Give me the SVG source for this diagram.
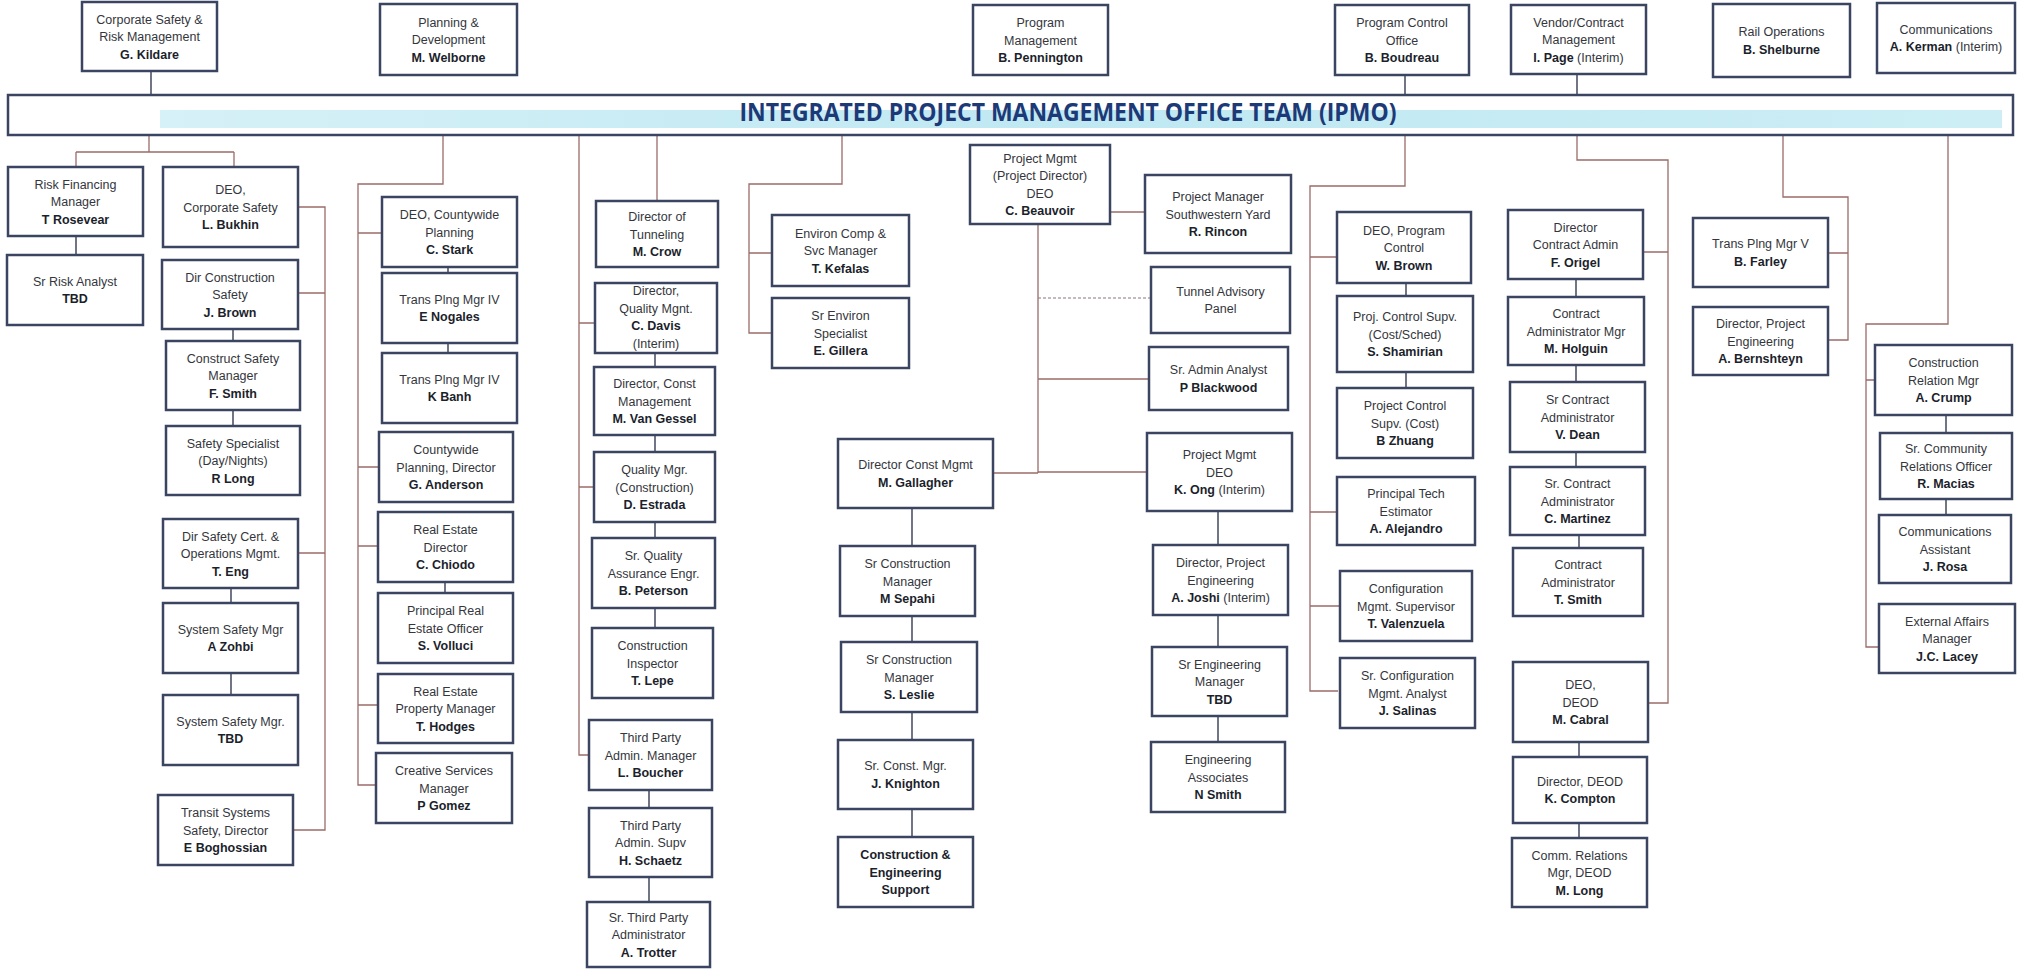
<svg xmlns="http://www.w3.org/2000/svg" width="2021" height="970" viewBox="0 0 2021 970">
<style>
.box{fill:#fff;stroke:#3b4562;stroke-width:2.5}
.t{font-family:"Liberation Sans",Arial,sans-serif;font-size:12.5px;fill:#34363c;text-anchor:middle}
.b{font-weight:bold;fill:#1c1f2c}
.bus{stroke:#9a6c6a;stroke-width:1.3;fill:none}
.lnk{stroke:#4d5468;stroke-width:1.6;fill:none}
.dot{stroke:#8a7a7a;stroke-width:1.2;fill:none;stroke-dasharray:3 2}
</style>
<defs>
<linearGradient id="band" x1="0" y1="0" x2="1" y2="0">
<stop offset="0" stop-color="#d6f1f7"/>
<stop offset="0.5" stop-color="#bfe8f2"/>
<stop offset="1" stop-color="#cdeef5"/>
</linearGradient>
</defs>
<rect width="2021" height="970" fill="#fff"/>

<!-- connectors -->
<g id="connectors">
<path class="bus" d="M149,135V152M76,152H234M76,152V167M234,152V167M298,207H325V830H293M298,293H325M298,553H325"/>
<path class="bus" d="M443,135V184H358V785H376M358,233H382M358,467H379M358,546H378M358,705H378"/>
<path class="bus" d="M657,135V201M579,135V755H589M579,323H595M579,487H594"/>
<path class="bus" d="M842,135V184H749V333H772M749,253H772"/>
<path class="bus" d="M1110,212H1145M1038,224V473M1038,379H1149M1038,472H1147M993,473H1038"/>
<path class="dot" d="M1038,298H1151"/>
<path class="bus" d="M1405,135V186H1310V691H1338M1310,257H1337M1310,512H1337M1310,606H1340"/>
<path class="bus" d="M1577,135V160H1668V703H1648M1643,252H1668"/>
<path class="bus" d="M1783,135V197H1848V340H1828M1828,253H1848"/>
<path class="bus" d="M1948,135V324H1866V647H1879M1866,380H1875"/>
<path class="lnk" d="M151,71V95M1405,75V95M1577,74V95"/>
<path class="lnk" d="M76,236V255M233,329V341M233,410V426M231,588V603M231,673V695"/>
<path class="lnk" d="M448,267V273M448,343V353M445,582V593"/>
<path class="lnk" d="M655,353V367M655,435V452M655,522V538M655,608V628M649,790V808M649,877V902"/>
<path class="lnk" d="M912,508V546M912,616V642M912,712V740M912,809V837"/>
<path class="lnk" d="M1218,511V545M1218,615V647M1218,716V742"/>
<path class="lnk" d="M1406,283V296M1406,372V388"/>
<path class="lnk" d="M1576,279V297M1576,365V382M1576,452V467M1579,535V548M1579,742V757M1579,823V838"/>
<path class="lnk" d="M1946,415V433M1946,499V515"/>
</g>

<!-- banner -->
<g id="ipmo">
<rect class="box" x="8" y="95" width="2005" height="40"/>
<rect x="160" y="110" width="1842" height="18" fill="url(#band)"/>
<text x="1068" y="121" font-family="'Open Sans','Liberation Sans',sans-serif" font-size="25" font-weight="bold" fill="#1d3a78" text-anchor="middle" textLength="657" lengthAdjust="spacingAndGlyphs">INTEGRATED PROJECT MANAGEMENT OFFICE TEAM (IPMO)</text>
</g>

<!-- top row -->
<g id="n-corp"><rect class="box" x="82" y="2" width="135" height="69"/><text class="t" x="149.5" y="23.5">Corporate Safety &amp;<tspan x="149.5" dy="17.5">Risk Management</tspan><tspan class="b" x="149.5" dy="17.5">G. Kildare</tspan></text></g>
<g id="n-plan"><rect class="box" x="380" y="4" width="137" height="71"/><text class="t" x="448.5" y="26.5">Planning &amp;<tspan x="448.5" dy="17.5">Development</tspan><tspan class="b" x="448.5" dy="17.5">M. Welborne</tspan></text></g>
<g id="n-prog"><rect class="box" x="973" y="5" width="135" height="70"/><text class="t" x="1040.5" y="27">Program<tspan x="1040.5" dy="17.5">Management</tspan><tspan class="b" x="1040.5" dy="17.5">B. Pennington</tspan></text></g>
<g id="n-pco"><rect class="box" x="1335" y="5" width="134" height="70"/><text class="t" x="1402" y="27">Program Control<tspan x="1402" dy="17.5">Office</tspan><tspan class="b" x="1402" dy="17.5">B. Boudreau</tspan></text></g>
<g id="n-vendor"><rect class="box" x="1511" y="5" width="135" height="69"/><text class="t" x="1578.5" y="26.5">Vendor/Contract<tspan x="1578.5" dy="17.5">Management</tspan><tspan class="b" x="1578.5" dy="17.5">I. Page</tspan><tspan> (Interim)</tspan></text></g>
<g id="n-rail"><rect class="box" x="1713" y="4" width="137" height="73"/><text class="t" x="1781.5" y="36.25">Rail Operations<tspan class="b" x="1781.5" dy="17.5">B. Shelburne</tspan></text></g>
<g id="n-comm"><rect class="box" x="1877" y="3" width="138" height="70"/><text class="t" x="1946" y="33.75">Communications<tspan class="b" x="1946" dy="17.5">A. Kerman</tspan><tspan> (Interim)</tspan></text></g>

<!-- corporate safety -->
<g id="n-rfm"><rect class="box" x="8" y="167" width="135" height="69"/><text class="t" x="75.5" y="188.5">Risk Financing<tspan x="75.5" dy="17.5">Manager</tspan><tspan class="b" x="75.5" dy="17.5">T Rosevear</tspan></text></g>
<g id="n-sra"><rect class="box" x="7" y="255" width="136" height="70"/><text class="t" x="75" y="285.75">Sr  Risk Analyst<tspan class="b" x="75" dy="17.5">TBD</tspan></text></g>
<g id="n-deocs"><rect class="box" x="163" y="167" width="135" height="80"/><text class="t" x="230.5" y="194">DEO,<tspan x="230.5" dy="17.5">Corporate Safety</tspan><tspan class="b" x="230.5" dy="17.5">L. Bukhin</tspan></text></g>
<g id="n-dcs"><rect class="box" x="162" y="260" width="136" height="69"/><text class="t" x="230" y="281.5">Dir  Construction<tspan x="230" dy="17.5">Safety</tspan><tspan class="b" x="230" dy="17.5">J. Brown</tspan></text></g>
<g id="n-csm"><rect class="box" x="166" y="341" width="134" height="69"/><text class="t" x="233" y="362.5">Construct  Safety<tspan x="233" dy="17.5">Manager</tspan><tspan class="b" x="233" dy="17.5">F. Smith</tspan></text></g>
<g id="n-ss"><rect class="box" x="166" y="426" width="134" height="69"/><text class="t" x="233" y="447.5">Safety Specialist<tspan x="233" dy="17.5">(Day/Nights)</tspan><tspan class="b" x="233" dy="17.5">R  Long</tspan></text></g>
<g id="n-dsc"><rect class="box" x="163" y="519" width="135" height="69"/><text class="t" x="230.5" y="540.5">Dir  Safety Cert. &amp;<tspan x="230.5" dy="17.5">Operations Mgmt.</tspan><tspan class="b" x="230.5" dy="17.5">T. Eng</tspan></text></g>
<g id="n-ssm1"><rect class="box" x="163" y="603" width="135" height="70"/><text class="t" x="230.5" y="633.75">System Safety Mgr<tspan class="b" x="230.5" dy="17.5">A  Zohbi</tspan></text></g>
<g id="n-ssm2"><rect class="box" x="163" y="695" width="135" height="70"/><text class="t" x="230.5" y="725.75">System Safety Mgr.<tspan class="b" x="230.5" dy="17.5">TBD</tspan></text></g>
<g id="n-tss"><rect class="box" x="158" y="795" width="135" height="70"/><text class="t" x="225.5" y="817">Transit Systems<tspan x="225.5" dy="17.5">Safety, Director</tspan><tspan class="b" x="225.5" dy="17.5">E  Boghossian</tspan></text></g>

<!-- planning -->
<g id="n-deocp"><rect class="box" x="382" y="197" width="135" height="70"/><text class="t" x="449.5" y="219">DEO, Countywide<tspan x="449.5" dy="17.5">Planning</tspan><tspan class="b" x="449.5" dy="17.5">C. Stark</tspan></text></g>
<g id="n-tpm4a"><rect class="box" x="382" y="273" width="135" height="70"/><text class="t" x="449.5" y="303.75">Trans Plng Mgr  IV<tspan class="b" x="449.5" dy="17.5">E  Nogales</tspan></text></g>
<g id="n-tpm4b"><rect class="box" x="382" y="353" width="135" height="70"/><text class="t" x="449.5" y="383.75">Trans Plng Mgr  IV<tspan class="b" x="449.5" dy="17.5">K  Banh</tspan></text></g>
<g id="n-cpd"><rect class="box" x="379" y="432" width="134" height="70"/><text class="t" x="446" y="454">Countywide<tspan x="446" dy="17.5">Planning, Director</tspan><tspan class="b" x="446" dy="17.5">G. Anderson</tspan></text></g>
<g id="n-red"><rect class="box" x="378" y="512" width="135" height="70"/><text class="t" x="445.5" y="534">Real Estate<tspan x="445.5" dy="17.5">Director</tspan><tspan class="b" x="445.5" dy="17.5">C. Chiodo</tspan></text></g>
<g id="n-preo"><rect class="box" x="378" y="593" width="135" height="70"/><text class="t" x="445.5" y="615">Principal Real<tspan x="445.5" dy="17.5">Estate Officer</tspan><tspan class="b" x="445.5" dy="17.5">S. Volluci</tspan></text></g>
<g id="n-repm"><rect class="box" x="378" y="674" width="135" height="69"/><text class="t" x="445.5" y="695.5">Real Estate<tspan x="445.5" dy="17.5">Property Manager</tspan><tspan class="b" x="445.5" dy="17.5">T. Hodges</tspan></text></g>
<g id="n-csvc"><rect class="box" x="376" y="753" width="136" height="70"/><text class="t" x="444" y="775">Creative Services<tspan x="444" dy="17.5">Manager</tspan><tspan class="b" x="444" dy="17.5">P  Gomez</tspan></text></g>

<!-- tunneling -->
<g id="n-dt"><rect class="box" x="596" y="201" width="122" height="66"/><text class="t" x="657" y="221">Director of<tspan x="657" dy="17.5">Tunneling</tspan><tspan class="b" x="657" dy="17.5">M. Crow</tspan></text></g>
<g id="n-dqm"><rect class="box" x="595" y="283" width="122" height="70"/><text class="t" x="656" y="295">Director,<tspan x="656" dy="17.5">Quality Mgnt.</tspan><tspan class="b" x="656" dy="17.5">C. Davis</tspan><tspan x="656" dy="17.5">(Interim)</tspan></text></g>
<g id="n-dcm"><rect class="box" x="594" y="367" width="121" height="68"/><text class="t" x="654.5" y="388">Director, Const<tspan x="654.5" dy="17.5">Management</tspan><tspan class="b" x="654.5" dy="17.5">M. Van Gessel</tspan></text></g>
<g id="n-qmc"><rect class="box" x="594" y="452" width="121" height="70"/><text class="t" x="654.5" y="474">Quality Mgr.<tspan x="654.5" dy="17.5">(Construction)</tspan><tspan class="b" x="654.5" dy="17.5">D. Estrada</tspan></text></g>
<g id="n-sqa"><rect class="box" x="592" y="538" width="123" height="70"/><text class="t" x="653.5" y="560">Sr. Quality<tspan x="653.5" dy="17.5">Assurance Engr.</tspan><tspan class="b" x="653.5" dy="17.5">B. Peterson</tspan></text></g>
<g id="n-ci"><rect class="box" x="592" y="628" width="121" height="70"/><text class="t" x="652.5" y="650">Construction<tspan x="652.5" dy="17.5">Inspector</tspan><tspan class="b" x="652.5" dy="17.5">T. Lepe</tspan></text></g>
<g id="n-tpam"><rect class="box" x="589" y="720" width="123" height="70"/><text class="t" x="650.5" y="742">Third Party<tspan x="650.5" dy="17.5">Admin. Manager</tspan><tspan class="b" x="650.5" dy="17.5">L. Boucher</tspan></text></g>
<g id="n-tpas"><rect class="box" x="589" y="808" width="123" height="69"/><text class="t" x="650.5" y="829.5">Third Party<tspan x="650.5" dy="17.5">Admin. Supv</tspan><tspan class="b" x="650.5" dy="17.5">H. Schaetz</tspan></text></g>
<g id="n-stpa"><rect class="box" x="587" y="902" width="123" height="65"/><text class="t" x="648.5" y="921.5">Sr. Third Party<tspan x="648.5" dy="17.5">Administrator</tspan><tspan class="b" x="648.5" dy="17.5">A. Trotter</tspan></text></g>

<!-- environmental -->
<g id="n-ecs"><rect class="box" x="772" y="215" width="137" height="71"/><text class="t" x="840.5" y="237.5">Environ  Comp  &amp;<tspan x="840.5" dy="17.5">Svc  Manager</tspan><tspan class="b" x="840.5" dy="17.5">T. Kefalas</tspan></text></g>
<g id="n-ses"><rect class="box" x="772" y="298" width="137" height="70"/><text class="t" x="840.5" y="320">Sr  Environ<tspan x="840.5" dy="17.5">Specialist</tspan><tspan class="b" x="840.5" dy="17.5">E. Gillera</tspan></text></g>

<!-- project management -->
<g id="n-pmb"><rect class="box" x="970" y="145" width="140" height="79"/><text class="t" x="1040" y="162.75">Project Mgmt<tspan x="1040" dy="17.5">(Project Director)</tspan><tspan x="1040" dy="17.5">DEO</tspan><tspan class="b" x="1040" dy="17.5">C. Beauvoir</tspan></text></g>
<g id="n-rincon"><rect class="box" x="1145" y="175" width="146" height="78"/><text class="t" x="1218" y="201">Project Manager<tspan x="1218" dy="17.5">Southwestern Yard</tspan><tspan class="b" x="1218" dy="17.5">R. Rincon</tspan></text></g>
<g id="n-tap"><rect class="box" x="1151" y="267" width="139" height="66"/><text class="t" x="1220.5" y="295.75">Tunnel Advisory<tspan x="1220.5" dy="17.5">Panel</tspan></text></g>
<g id="n-saa"><rect class="box" x="1149" y="347" width="139" height="63"/><text class="t" x="1218.5" y="374.25">Sr. Admin Analyst<tspan class="b" x="1218.5" dy="17.5">P  Blackwood</tspan></text></g>
<g id="n-kong"><rect class="box" x="1147" y="433" width="145" height="78"/><text class="t" x="1219.5" y="459">Project Mgmt<tspan x="1219.5" dy="17.5">DEO</tspan><tspan class="b" x="1219.5" dy="17.5">K. Ong</tspan><tspan> (Interim)</tspan></text></g>
<g id="n-joshi"><rect class="box" x="1153" y="545" width="135" height="70"/><text class="t" x="1220.5" y="567">Director, Project<tspan x="1220.5" dy="17.5">Engineering</tspan><tspan class="b" x="1220.5" dy="17.5">A. Joshi</tspan><tspan> (Interim)</tspan></text></g>
<g id="n-sem"><rect class="box" x="1152" y="647" width="135" height="69"/><text class="t" x="1219.5" y="668.5">Sr  Engineering<tspan x="1219.5" dy="17.5">Manager</tspan><tspan class="b" x="1219.5" dy="17.5">TBD</tspan></text></g>
<g id="n-ea"><rect class="box" x="1151" y="742" width="134" height="70"/><text class="t" x="1218" y="764">Engineering<tspan x="1218" dy="17.5">Associates</tspan><tspan class="b" x="1218" dy="17.5">N  Smith</tspan></text></g>

<!-- construction management -->
<g id="n-dcmg"><rect class="box" x="838" y="439" width="155" height="69"/><text class="t" x="915.5" y="469.25">Director  Const  Mgmt<tspan class="b" x="915.5" dy="17.5">M. Gallagher</tspan></text></g>
<g id="n-sep"><rect class="box" x="840" y="546" width="135" height="70"/><text class="t" x="907.5" y="568">Sr  Construction<tspan x="907.5" dy="17.5">Manager</tspan><tspan class="b" x="907.5" dy="17.5">M  Sepahi</tspan></text></g>
<g id="n-les"><rect class="box" x="841" y="642" width="136" height="70"/><text class="t" x="909" y="664">Sr  Construction<tspan x="909" dy="17.5">Manager</tspan><tspan class="b" x="909" dy="17.5">S. Leslie</tspan></text></g>
<g id="n-kni"><rect class="box" x="838" y="740" width="135" height="69"/><text class="t" x="905.5" y="770.25">Sr. Const. Mgr.<tspan class="b" x="905.5" dy="17.5">J. Knighton</tspan></text></g>
<g id="n-ces"><rect class="box" x="838" y="837" width="135" height="70"/><text class="t b" x="905.5" y="859">Construction &amp;<tspan x="905.5" dy="17.5">Engineering</tspan><tspan x="905.5" dy="17.5">Support</tspan></text></g>

<!-- program control -->
<g id="n-deopc"><rect class="box" x="1337" y="212" width="134" height="71"/><text class="t" x="1404" y="234.5">DEO,  Program<tspan x="1404" dy="17.5">Control</tspan><tspan class="b" x="1404" dy="17.5">W. Brown</tspan></text></g>
<g id="n-pcs1"><rect class="box" x="1337" y="296" width="136" height="76"/><text class="t" x="1405" y="321">Proj. Control Supv.<tspan x="1405" dy="17.5">(Cost/Sched)</tspan><tspan class="b" x="1405" dy="17.5">S. Shamirian</tspan></text></g>
<g id="n-pcs2"><rect class="box" x="1337" y="388" width="136" height="70"/><text class="t" x="1405" y="410">Project Control<tspan x="1405" dy="17.5">Supv. (Cost)</tspan><tspan class="b" x="1405" dy="17.5">B  Zhuang</tspan></text></g>
<g id="n-pte"><rect class="box" x="1337" y="477" width="138" height="68"/><text class="t" x="1406" y="498">Principal Tech<tspan x="1406" dy="17.5">Estimator</tspan><tspan class="b" x="1406" dy="17.5">A. Alejandro</tspan></text></g>
<g id="n-cms"><rect class="box" x="1340" y="571" width="132" height="70"/><text class="t" x="1406" y="593">Configuration<tspan x="1406" dy="17.5">Mgmt. Supervisor</tspan><tspan class="b" x="1406" dy="17.5">T. Valenzuela</tspan></text></g>
<g id="n-scma"><rect class="box" x="1340" y="658" width="135" height="70"/><text class="t" x="1407.5" y="680">Sr. Configuration<tspan x="1407.5" dy="17.5">Mgmt. Analyst</tspan><tspan class="b" x="1407.5" dy="17.5">J. Salinas</tspan></text></g>

<!-- contract administration -->
<g id="n-dca"><rect class="box" x="1508" y="210" width="135" height="69"/><text class="t" x="1575.5" y="231.5">Director<tspan x="1575.5" dy="17.5">Contract Admin</tspan><tspan class="b" x="1575.5" dy="17.5">F. Origel</tspan></text></g>
<g id="n-cam"><rect class="box" x="1508" y="297" width="136" height="68"/><text class="t" x="1576" y="318">Contract<tspan x="1576" dy="17.5">Administrator Mgr</tspan><tspan class="b" x="1576" dy="17.5">M. Holguin</tspan></text></g>
<g id="n-sca1"><rect class="box" x="1510" y="382" width="135" height="70"/><text class="t" x="1577.5" y="404">Sr  Contract<tspan x="1577.5" dy="17.5">Administrator</tspan><tspan class="b" x="1577.5" dy="17.5">V. Dean</tspan></text></g>
<g id="n-sca2"><rect class="box" x="1510" y="467" width="135" height="68"/><text class="t" x="1577.5" y="488">Sr. Contract<tspan x="1577.5" dy="17.5">Administrator</tspan><tspan class="b" x="1577.5" dy="17.5">C. Martinez</tspan></text></g>
<g id="n-ca"><rect class="box" x="1513" y="548" width="130" height="68"/><text class="t" x="1578" y="569">Contract<tspan x="1578" dy="17.5">Administrator</tspan><tspan class="b" x="1578" dy="17.5">T. Smith</tspan></text></g>
<g id="n-deod"><rect class="box" x="1513" y="662" width="135" height="80"/><text class="t" x="1580.5" y="689">DEO,<tspan x="1580.5" dy="17.5">DEOD</tspan><tspan class="b" x="1580.5" dy="17.5">M. Cabral</tspan></text></g>
<g id="n-kcomp"><rect class="box" x="1513" y="757" width="134" height="66"/><text class="t" x="1580" y="785.75">Director, DEOD<tspan class="b" x="1580" dy="17.5">K. Compton</tspan></text></g>
<g id="n-mlong"><rect class="box" x="1512" y="838" width="135" height="69"/><text class="t" x="1579.5" y="859.5">Comm. Relations<tspan x="1579.5" dy="17.5">Mgr, DEOD</tspan><tspan class="b" x="1579.5" dy="17.5">M. Long</tspan></text></g>

<!-- rail operations -->
<g id="n-farley"><rect class="box" x="1693" y="218" width="135" height="69"/><text class="t" x="1760.5" y="248.25">Trans Plng Mgr  V<tspan class="b" x="1760.5" dy="17.5">B. Farley</tspan></text></g>
<g id="n-bern"><rect class="box" x="1693" y="307" width="135" height="68"/><text class="t" x="1760.5" y="328">Director, Project<tspan x="1760.5" dy="17.5">Engineering</tspan><tspan class="b" x="1760.5" dy="17.5">A. Bernshteyn</tspan></text></g>

<!-- communications -->
<g id="n-crump"><rect class="box" x="1875" y="345" width="137" height="70"/><text class="t" x="1943.5" y="367">Construction<tspan x="1943.5" dy="17.5">Relation Mgr</tspan><tspan class="b" x="1943.5" dy="17.5">A. Crump</tspan></text></g>
<g id="n-macias"><rect class="box" x="1880" y="433" width="132" height="66"/><text class="t" x="1946" y="453">Sr. Community<tspan x="1946" dy="17.5">Relations Officer</tspan><tspan class="b" x="1946" dy="17.5">R. Macias</tspan></text></g>
<g id="n-rosa"><rect class="box" x="1879" y="515" width="132" height="68"/><text class="t" x="1945" y="536">Communications<tspan x="1945" dy="17.5">Assistant</tspan><tspan class="b" x="1945" dy="17.5">J. Rosa</tspan></text></g>
<g id="n-lacey"><rect class="box" x="1879" y="604" width="136" height="69"/><text class="t" x="1947" y="625.5">External Affairs<tspan x="1947" dy="17.5">Manager</tspan><tspan class="b" x="1947" dy="17.5">J.C. Lacey</tspan></text></g>
</svg>
